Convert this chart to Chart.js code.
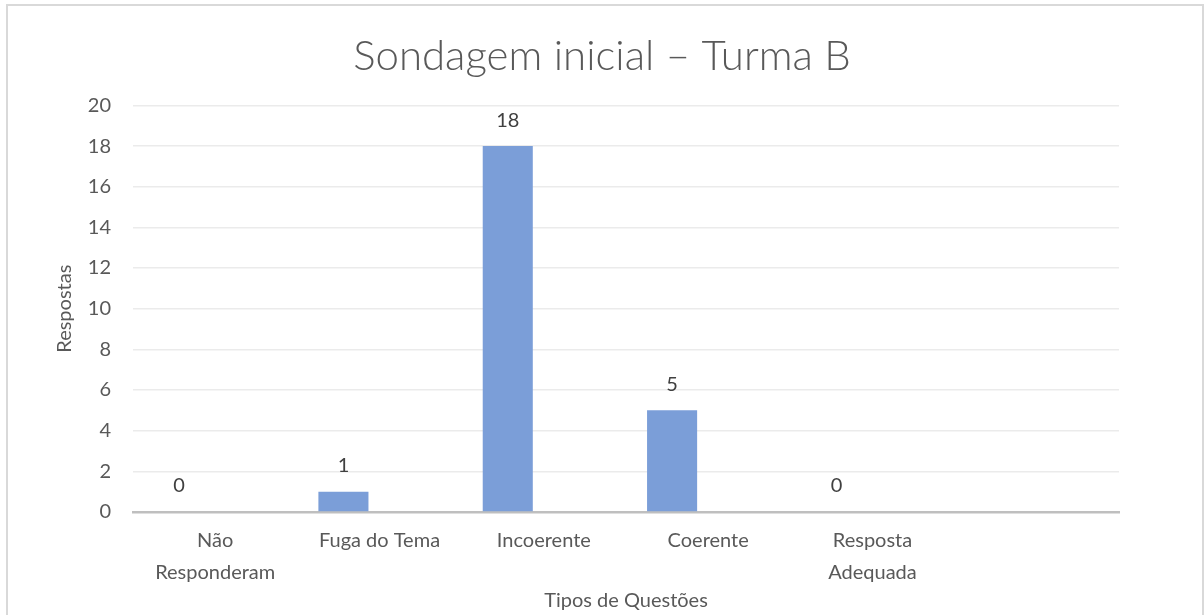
<!DOCTYPE html>
<html>
<head>
<meta charset="utf-8">
<script src="https://cdn.jsdelivr.net/npm/chart.js@4.4.1/dist/chart.umd.min.js"></script>
<style>
  html, body { margin: 0; padding: 0; background: #ffffff; }
  #wrap { width: 1204px; height: 615px; position: relative; }
</style>
</head>
<body>
<div id="wrap"><canvas id="c" width="1204" height="615"></canvas></div>
<script>
const categories = [["Não", "Responderam"], "Fuga do Tema", "Incoerente", "Coerente", ["Resposta", "Adequada"], ""];
const respostas = [0, 1, 18, 5, 0, null];
const serie2 = [null, null, null, null, null, null];
const yTicks = [0, 2, 4, 6, 8, 10, 12, 14, 16, 18, 20];

const FONT = "Lato, 'Open Sans', 'DejaVu Sans', sans-serif";

const frame = {
  id: 'frame',
  beforeDraw(chart) {
    const ctx = chart.ctx;
    ctx.save();
    ctx.fillStyle = '#ffffff';
    ctx.fillRect(0, 0, chart.width, chart.height);
    ctx.strokeStyle = '#D9D9D9';
    ctx.lineWidth = 2;
    ctx.strokeRect(7, 5, 1196, 620);
    ctx.restore();
  }
};

const valueLabels = {
  id: 'valueLabels',
  afterDatasetsDraw(chart) {
    const ctx = chart.ctx;
    const meta = chart.getDatasetMeta(0);
    const ds = chart.data.datasets[0];
    ctx.save();
    ctx.font = "20px " + FONT;
    ctx.fillStyle = '#404040';
    ctx.textAlign = 'center';
    ctx.textBaseline = 'middle';
    meta.data.forEach((bar, i) => {
      const v = ds.data[i];
      if (v === null || v === undefined) return;
      ctx.fillText(String(v), bar.x, bar.y - 26);
    });
    ctx.restore();
  }
};

new Chart(document.getElementById('c'), {
  type: 'bar',
  data: {
    labels: categories,
    datasets: [
      { label: 'Respostas', data: respostas, backgroundColor: '#7B9ED8', borderWidth: 0, yAxisID: 'y' },
      { label: 'Série 2', data: serie2, backgroundColor: '#ED7D31', borderWidth: 0, yAxisID: 'y' }
    ]
  },
  options: {
    responsive: false,
    animation: false,
    devicePixelRatio: 1,
    categoryPercentage: 0.878,
    barPercentage: 0.694,
    layout: { padding: { top: 0, left: 0, right: 0, bottom: 0 } },
    plugins: {
      legend: { display: false },
      tooltip: { enabled: false },
      title: {
        display: true,
        text: 'Sondagem inicial – Turma B',
        color: '#595959',
        font: { family: FONT, size: 42, weight: 300, lineHeight: 1.2 },
        padding: { top: 31, bottom: 24 }
      }
    },
    scales: {
      x: {
        afterFit(scale) { scale.height = 103; },
        grid: { display: false, drawTicks: false },
        border: { display: true, color: '#BFBFBF', width: 2.5 },
        ticks: {
          color: '#595959',
          font: { family: FONT, size: 20, lineHeight: 1.6 },
          padding: 13,
          maxRotation: 0,
          autoSkip: false
        },
        title: {
          display: true,
          text: 'Tipos de Questões',
          color: '#595959',
          font: { family: FONT, size: 20, lineHeight: 1.2 },
          padding: { top: 2, bottom: 2 }
        }
      },
      y: {
        min: 0,
        max: 20,
        afterFit(scale) { scale.width = 133; },
        afterBuildTicks(scale) { scale.ticks = yTicks.map(v => ({ value: v })); },
        grid: { color: '#EBEBEB', lineWidth: 1.5, drawTicks: false },
        border: { display: false },
        ticks: {
          color: '#595959',
          font: { family: FONT, size: 20 },
          padding: 22,
          stepSize: 2
        },
        title: {
          display: true,
          text: 'Respostas',
          color: '#595959',
          font: { family: FONT, size: 20, lineHeight: 1.2 },
          padding: { top: 53, bottom: 0 }
        }
      },
      yRight: {
        position: 'right',
        min: 0,
        max: 20,
        afterFit(scale) { scale.width = 85; },
        grid: { display: false, drawTicks: false },
        border: { display: false },
        ticks: { display: false }
      }
    }
  },
  plugins: [frame, valueLabels]
});
</script>
</body>
</html>
